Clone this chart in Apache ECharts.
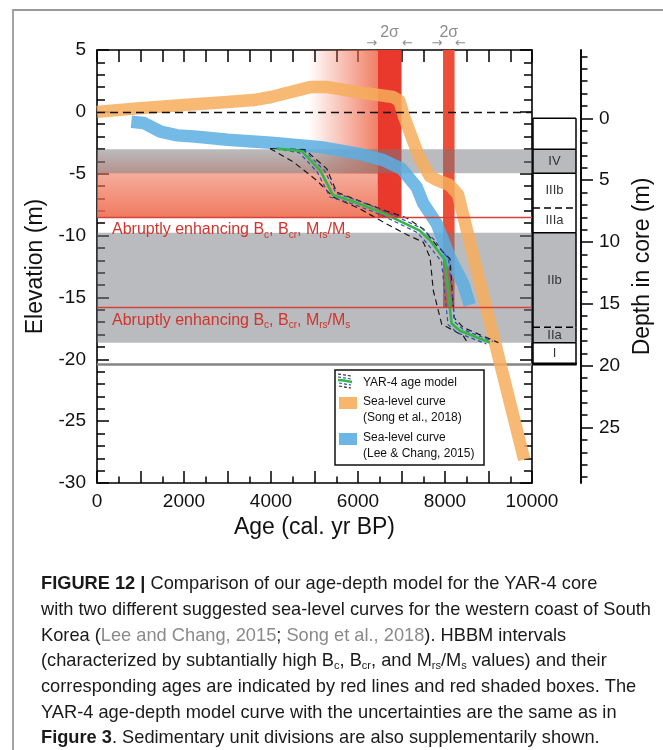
<!DOCTYPE html>
<html>
<head>
<meta charset="utf-8">
<script src="https://cdn.jsdelivr.net/npm/echarts@6/dist/echarts.min.js"></script>
<style>
html, body { margin: 0; padding: 0; background: #fff; }
#chart { width: 663px; height: 750px; }
</style>
</head>
<body>
<div id="chart"></div>
<script>
// sea-level curve, Song et al. 2018
const songAge = [0, 1000, 2000, 3000, 3600, 4000, 4900, 5300, 6000, 6800, 6950, 7050, 7400, 7650, 7800, 8100, 8300, 9820];
const songElev = [0, 0.3, 0.55, 0.8, 0.95, 1.2, 2.0, 2.0, 1.6, 1.2, 0.9, -0.3, -3.6, -5.2, -5.5, -5.9, -6.7, -28.1];

// sea-level curve, Lee & Chang 2015
const leeAge = [790, 1075, 1460, 1850, 2240, 3000, 4000, 5150, 6030, 6580, 7000, 7350, 7500, 7810, 8110, 8420, 8570];
const leeElev = [-0.8, -0.9, -1.6, -1.9, -2.0, -2.25, -2.5, -2.85, -3.4, -3.9, -4.6, -6.1, -7.4, -9.05, -11.75, -13.9, -15.6];

// YAR-4 age model (green) with uncertainty curves
const modelAge = [4130, 4700, 5130, 5430, 5820, 6430, 6810, 7420, 7660, 8000, 8150, 8345, 9030];
const modelElev = [-2.97, -3.16, -4.73, -6.75, -7.16, -7.97, -8.57, -9.6, -10.4, -12.0, -17.1, -17.7, -18.65];
const blueHiAge = [4100, 4760, 5230, 5500, 5900, 6500, 6880, 7480, 7740, 8080, 8230, 8420, 9100];
const blueHiElev = [-2.95, -3.1, -4.75, -6.6, -7.05, -7.85, -8.45, -9.45, -10.3, -11.9, -17.0, -17.6, -18.55];
const blueLoAge = [4120, 4650, 5060, 5360, 5760, 6370, 6750, 7360, 7580, 7920, 8070, 8280, 8950];
const blueLoElev = [-3.0, -3.3, -4.85, -6.9, -7.3, -8.1, -8.7, -9.75, -10.6, -12.1, -17.2, -17.85, -18.75];
const envHiAge = [3977, 4782, 5280, 5510, 6046, 6660, 7119, 7502, 7809, 8115, 8207, 8422, 9226];
const envHiElev = [-2.97, -3.05, -4.59, -6.49, -7.22, -8.03, -8.57, -9.46, -10.81, -11.89, -16.63, -17.44, -18.65];
const envLoAge = [3977, 4513, 5050, 5433, 6046, 6583, 7119, 7502, 7656, 7732, 7924, 8422, 8537];
const envLoElev = [-2.97, -4.05, -5.54, -6.89, -7.84, -8.92, -9.92, -10.54, -11.76, -14.46, -17.16, -18.11, -18.78];

// HBBM intervals: elevations of the red lines, age boxes [age0, age1, elevTop, elevBottom]
const hbbmElev = [-8.5, -15.8];
const hbbmShades = [[0, 6450, -3, -8.5], [4860, 6450, 5, -5]];
const hbbmBars = [[6450, 7000, 5, -8.5], [7955, 8220, 5, -15.8]];

// sedimentary units, depth in core (m)
const unitNames = ['', 'IV', 'IIIb', 'IIIa', 'IIb', 'IIa', 'I'];
const unitTop = [0, 2.51, 4.45, 7.25, 9.25, 16.9, 18.14];
const unitBottom = [2.51, 4.45, 7.25, 9.25, 16.9, 18.14, 19.86];
const unitGray = [0, 1, 0, 0, 1, 1, 0];
const unitDashedTop = [0, 0, 0, 1, 0, 1, 0];
const coreBottom = 19.86;

const depthMajor = [0, 5, 10, 15, 20, 25];
const depthMinor = [-5, -4, -3, -2, -1, 0, 1, 2, 3, 4, 5, 6, 7, 8, 9, 10, 11, 12, 13, 14, 15, 16, 17, 18, 19, 20, 21, 22, 23, 24, 25, 26, 27, 28, 29];
// depth axis range matching elevation 5 .. -30
const DEPTH_MIN = -5.52, DEPTH_MAX = 29.48;

const FONT = '"Liberation Sans", Arial, sans-serif';
const axisLineStyle = { color: '#000', width: 1.6 };
const tickStyle = { color: '#000', width: 1.5 };
const labelStyle = { fontFamily: FONT, fontSize: 19, color: '#111' };
const nameStyle = { fontFamily: FONT, fontSize: 23, color: '#111' };

function pairs(xs, ys) { return xs.map((x, i) => [x, ys[i]]); }

// merge touching gray units into bands
const grayBands = [];
unitNames.forEach((n, i) => {
  if (!unitGray[i]) return;
  const last = grayBands[grayBands.length - 1];
  if (last && last[1] === unitTop[i]) last[1] = unitBottom[i];
  else grayBands.push([unitTop[i], unitBottom[i]]);
});

const chart = echarts.init(document.getElementById('chart'));

function rectOf(api, a0, a1, e0, e1) {
  const p0 = api.coord([a0, e0]);
  const p1 = api.coord([a1, e1]);
  return { x: p0[0], y: p0[1], width: p1[0] - p0[0], height: p1[1] - p0[1] };
}

const SALMON = 'rgba(238,105,75,';
const shadeFills = [
  new echarts.graphic.LinearGradient(0, 0, 0, 1, [
    { offset: 0, color: SALMON + '0)' },
    { offset: 0.35, color: SALMON + '0.55)' },
    { offset: 1, color: SALMON + '0.88)' }
  ]),
  new echarts.graphic.LinearGradient(0, 0, 1, 0, [
    { offset: 0, color: SALMON + '0)' },
    { offset: 1, color: SALMON + '0.85)' }
  ])
];
const barFills = ['#e8392c', '#ed4e37'];

const subRich = {
  t: { fontFamily: FONT, fontSize: 16, color: '#d0342c', lineHeight: 20 },
  s: { fontFamily: FONT, fontSize: 10, color: '#d0342c', lineHeight: 11, verticalAlign: 'bottom' }
};
const hbbmLabel = '{t|Abruptly enhancing B}{s|c}{t|, B}{s|cr}{t|, M}{s|rs}{t|/M}{s|s}';

const option = {
  animation: false,
  backgroundColor: '#fff',
  grid: [
    { left: 97, top: 50, width: 435, height: 433 },
    { left: 533, top: 50, width: 43, height: 433 }
  ],
  xAxis: [
    {
      gridIndex: 0, type: 'value', min: 0, max: 10000, interval: 1000, position: 'bottom',
      axisLine: { show: true, onZero: false, lineStyle: axisLineStyle },
      axisTick: { show: true, inside: true, length: 12, lineStyle: tickStyle },
      minorTick: { show: true, splitNumber: 2, length: 6.5, lineStyle: tickStyle },
      splitLine: { show: false },
      axisLabel: Object.assign({ margin: 9, formatter: v => (v % 2000 === 0 ? String(v) : '') }, labelStyle),
      name: 'Age (cal. yr BP)', nameLocation: 'middle', nameGap: 31, nameTextStyle: nameStyle
    },
    {
      gridIndex: 0, type: 'value', min: 0, max: 10000, interval: 500, position: 'top',
      axisLine: { show: true, onZero: false, lineStyle: axisLineStyle },
      axisTick: { show: true, inside: true, length: 12, lineStyle: tickStyle },
      axisLabel: { show: false }, splitLine: { show: false }
    },
    { gridIndex: 1, type: 'value', min: 0, max: 1, show: false }
  ],
  yAxis: [
    {
      gridIndex: 0, type: 'value', min: -30, max: 5, interval: 5, position: 'left',
      axisLine: { show: true, onZero: false, lineStyle: axisLineStyle },
      axisTick: { show: true, inside: true, length: 12, lineStyle: tickStyle },
      minorTick: { show: true, splitNumber: 5, length: 8, lineStyle: tickStyle },
      splitLine: { show: false },
      axisLabel: Object.assign({ margin: 11 }, labelStyle),
      name: 'Elevation (m)', nameLocation: 'middle', nameRotate: 90, nameGap: 47, nameTextStyle: nameStyle
    },
    {
      gridIndex: 0, type: 'value', min: -30, max: 5, interval: 5, position: 'right',
      axisLine: { show: true, onZero: false, lineStyle: axisLineStyle },
      axisTick: { show: true, inside: true, length: 12, lineStyle: tickStyle },
      minorTick: { show: true, splitNumber: 5, length: 8, lineStyle: tickStyle },
      splitLine: { show: false }, axisLabel: { show: false }
    },
    {
      gridIndex: 0, type: 'value', min: DEPTH_MIN, max: DEPTH_MAX, inverse: true, position: 'right', offset: 49,
      axisLine: { show: true, onZero: false, lineStyle: axisLineStyle },
      axisTick: { show: true, inside: false, length: 12, lineStyle: tickStyle, customValues: depthMajor },
      splitLine: { show: false },
      axisLabel: Object.assign({ margin: 18, customValues: depthMajor }, labelStyle),
      name: 'Depth in core (m)', nameLocation: 'middle', nameRotate: 90, nameGap: 48, nameTextStyle: nameStyle
    },
    {
      gridIndex: 0, type: 'value', min: DEPTH_MIN, max: DEPTH_MAX, inverse: true, position: 'right', offset: 49,
      axisLine: { show: true, onZero: false, lineStyle: axisLineStyle },
      axisTick: { show: true, inside: false, length: 6.5, lineStyle: tickStyle, customValues: depthMinor },
      splitLine: { show: false }, axisLabel: { show: false }
    },
    { gridIndex: 1, type: 'value', min: DEPTH_MIN, max: DEPTH_MAX, inverse: true, show: false }
  ],
  series: [
    {
      // red shaded boxes
      type: 'custom', xAxisIndex: 0, yAxisIndex: 0, z: 1, silent: true, clip: true,
      data: hbbmShades.concat(hbbmBars),
      renderItem(params, api) {
        const i = params.dataIndex;
        const fill = i < hbbmShades.length ? shadeFills[i] : barFills[i - hbbmShades.length];
        return { type: 'rect', shape: rectOf(api, api.value(0), api.value(1), api.value(2), api.value(3)), style: { fill } };
      }
    },
    {
      // gray unit bands across the plot
      type: 'custom', xAxisIndex: 0, yAxisIndex: 2, z: 2, silent: true,
      data: grayBands,
      renderItem(params, api) {
        const cs = params.coordSys;
        const y0 = api.coord([0, api.value(0)])[1];
        const y1 = api.coord([0, api.value(1)])[1];
        return { type: 'rect', shape: { x: cs.x, y: y0, width: cs.width, height: y1 - y0 }, style: { fill: 'rgba(118,120,126,0.5)' } };
      }
    },
    {
      // core column with unit names
      type: 'custom', xAxisIndex: 2, yAxisIndex: 4, z: 2, silent: true,
      data: unitNames.map((n, i) => [unitTop[i], unitBottom[i], unitGray[i], unitDashedTop[i]]),
      renderItem(params, api) {
        const a = api.coord([0, api.value(0)]);
        const b = api.coord([1, api.value(1)]);
        const x0 = a[0], x1 = b[0], y0 = a[1], y1 = b[1];
        const solid = { stroke: '#000', lineWidth: 1.5 };
        const children = [
          { type: 'rect', shape: { x: x0, y: y0, width: x1 - x0, height: y1 - y0 }, style: { fill: api.value(2) ? '#b9babd' : '#fff' } },
          { type: 'line', shape: { x1: x0, y1: y0, x2: x0, y2: y1 }, style: solid },
          { type: 'line', shape: { x1: x1, y1: y0, x2: x1, y2: y1 }, style: solid },
          { type: 'line', shape: { x1: x0, y1: y0, x2: x1, y2: y0 },
            style: { stroke: '#000', lineWidth: 1.5, lineDash: api.value(3) ? [7, 4] : null } },
          { type: 'text', style: { text: unitNames[params.dataIndex], x: (x0 + x1) / 2, y: (y0 + y1) / 2,
            align: 'center', verticalAlign: 'middle', fontFamily: FONT, fontSize: 13, fill: '#333' } }
        ];
        if (params.dataIndex === unitNames.length - 1) {
          children.push({ type: 'line', shape: { x1: x0 - 0.75, y1: y1, x2: x1 + 0.75, y2: y1 }, style: { stroke: '#000', lineWidth: 3 } });
        }
        return { type: 'group', children };
      }
    },
    {
      // core bottom line across the plot
      type: 'line', xAxisIndex: 0, yAxisIndex: 2, data: [], z: 2,
      markLine: {
        silent: true, symbol: 'none', z: 2, label: { show: false },
        lineStyle: { color: '#858585', width: 2.5, type: 'solid' },
        data: [{ yAxis: coreBottom }]
      }
    },
    {
      name: 'Song et al., 2018', type: 'line', xAxisIndex: 0, yAxisIndex: 0, z: 3, silent: true,
      showSymbol: false, data: pairs(songAge, songElev),
      lineStyle: { color: '#f6ad5a', width: 12.5, opacity: 0.85, cap: 'butt', join: 'round' }
    },
    {
      name: 'Lee & Chang, 2015', type: 'line', xAxisIndex: 0, yAxisIndex: 0, z: 4, silent: true,
      showSymbol: false, data: pairs(leeAge, leeElev),
      lineStyle: { color: '#5aaee3', width: 12.5, opacity: 0.85, cap: 'butt', join: 'round' }
    },
    {
      type: 'line', z: 5, silent: true, showSymbol: false, data: pairs(envHiAge, envHiElev),
      lineStyle: { color: '#1a1a1a', width: 1.2, type: [6, 4] }
    },
    {
      type: 'line', z: 5, silent: true, showSymbol: false, data: pairs(envLoAge, envLoElev),
      lineStyle: { color: '#1a1a1a', width: 1.2, type: [6, 4] }
    },
    {
      type: 'line', z: 6, silent: true, showSymbol: false, data: pairs(blueHiAge, blueHiElev),
      lineStyle: { color: '#2f4fb5', width: 1.2, type: [4, 3] }
    },
    {
      type: 'line', z: 6, silent: true, showSymbol: false, data: pairs(blueLoAge, blueLoElev),
      lineStyle: { color: '#2f4fb5', width: 1.2, type: [4, 3] }
    },
    {
      name: 'YAR-4 age model', type: 'line', z: 7, silent: true, showSymbol: false, data: pairs(modelAge, modelElev),
      lineStyle: { color: '#35b44a', width: 2.6 }
    },
    {
      // zero line and HBBM red lines
      type: 'line', xAxisIndex: 0, yAxisIndex: 0, data: [], z: 8,
      markLine: {
        silent: true, symbol: 'none', z: 8,
        data: [
          { yAxis: 0, lineStyle: { color: '#111', width: 1.3, type: [8, 5] }, label: { show: false } }
        ].concat(hbbmElev.map(e => ({
          yAxis: e,
          lineStyle: { color: '#d8403a', width: 1.3, type: 'solid' },
          label: { show: true, position: 'insideStartBottom', distance: [15, 3], formatter: hbbmLabel, rich: subRich }
        })))
      }
    }
  ]
};

chart.setOption(option);

// annotations in pixel space: 2 sigma arrows, legend, caption, frame
const gray = '#8c8c8c';
const sigmaTexts = [];
hbbmBars.forEach(b => {
  const xa = chart.convertToPixel({ xAxisIndex: 0 }, b[0]);
  const xb = chart.convertToPixel({ xAxisIndex: 0 }, b[1]);
  sigmaTexts.push(
    { type: 'text', x: xa - 6, y: 44, style: { text: '→', fontFamily: 'DejaVu Sans', fontSize: 13, fill: gray, align: 'center', verticalAlign: 'middle' } },
    { type: 'text', x: xb + 6, y: 44, style: { text: '←', fontFamily: 'DejaVu Sans', fontSize: 13, fill: gray, align: 'center', verticalAlign: 'middle' } },
    { type: 'text', x: (xa + xb) / 2, y: 33, style: { text: '2σ', fontFamily: FONT, fontSize: 16, fill: gray, align: 'center', verticalAlign: 'middle' } }
  );
});

const legendFont = { fontFamily: FONT, fontSize: 12, fill: '#111', verticalAlign: 'middle' };
const legend = [
  { type: 'rect', shape: { x: 335, y: 370, width: 149, height: 95 }, style: { fill: '#fff', stroke: '#111', lineWidth: 1.5 } },
  { type: 'polyline', shape: { points: [[338, 374], [351, 376]] }, style: { stroke: '#222', lineWidth: 1.2, lineDash: [3, 2] } },
  { type: 'polyline', shape: { points: [[338, 377], [351, 379]] }, style: { stroke: '#2f4fb5', lineWidth: 1.2, lineDash: [3, 2] } },
  { type: 'polyline', shape: { points: [[338, 380], [344, 380.5], [352, 382]] }, style: { stroke: '#35b44a', lineWidth: 2.4 } },
  { type: 'polyline', shape: { points: [[339, 383], [351, 385]] }, style: { stroke: '#2f4fb5', lineWidth: 1.2, lineDash: [3, 2] } },
  { type: 'polyline', shape: { points: [[339, 386], [351, 388]] }, style: { stroke: '#222', lineWidth: 1.2, lineDash: [3, 2] } },
  { type: 'text', x: 363, y: 383, style: Object.assign({ text: 'YAR-4 age model' }, legendFont) },
  { type: 'rect', shape: { x: 339, y: 397, width: 18, height: 12 }, style: { fill: '#f6b66c' } },
  { type: 'text', x: 363, y: 402, style: Object.assign({ text: 'Sea-level curve' }, legendFont) },
  { type: 'text', x: 363, y: 418, style: Object.assign({ text: '(Song et al., 2018)' }, legendFont) },
  { type: 'rect', shape: { x: 339, y: 433, width: 18, height: 12 }, style: { fill: '#6cb6e6' } },
  { type: 'text', x: 363, y: 438, style: Object.assign({ text: 'Sea-level curve' }, legendFont) },
  { type: 'text', x: 363, y: 454, style: Object.assign({ text: '(Lee & Chang, 2015)' }, legendFont) }
];

// graphic rich text uses fill, not color
const capRich = {
  b: { fontFamily: FONT, fontSize: 19, fontWeight: 'bold', fill: '#1a1a1a', lineHeight: 22 },
  g: { fontFamily: FONT, fontSize: 19, fill: '#8a8a8a', lineHeight: 22 },
  s: { fontFamily: FONT, fontSize: 11.5, fill: '#1a1a1a', lineHeight: 12, verticalAlign: 'bottom' }
};
const captionLines = [
  '{b|FIGURE 12 |} Comparison of our age-depth model for the YAR-4 core',
  'with two different suggested sea-level curves for the western coast of South',
  'Korea ({g|Lee and Chang, 2015}; {g|Song et al., 2018}). HBBM intervals',
  '(characterized by subtantially high B{s|c}, B{s|cr}, and M{s|rs}/M{s|s} values) and their',
  'corresponding ages are indicated by red lines and red shaded boxes. The',
  'YAR-4 age-depth model curve with the uncertainties are the same as in',
  '{b|Figure 3}. Sedimentary unit divisions are also supplementarily shown.'
];
const caption = captionLines.map((t, i) => ({
  type: 'text', x: 41, y: 584 + i * 25.7, scaleX: 0.96,
  style: { text: t, fontFamily: FONT, fontSize: 19, fill: '#1a1a1a', lineHeight: 22, verticalAlign: 'middle', rich: capRich }
}));

const frame = [
  { type: 'polyline', shape: { points: [[13, 760], [13, 10], [680, 10]] }, style: { stroke: '#9a9a9a', lineWidth: 1.8, fill: null } }
];

chart.setOption({ graphic: { elements: frame.concat(sigmaTexts, legend, caption) } });
</script>
</body>
</html>
